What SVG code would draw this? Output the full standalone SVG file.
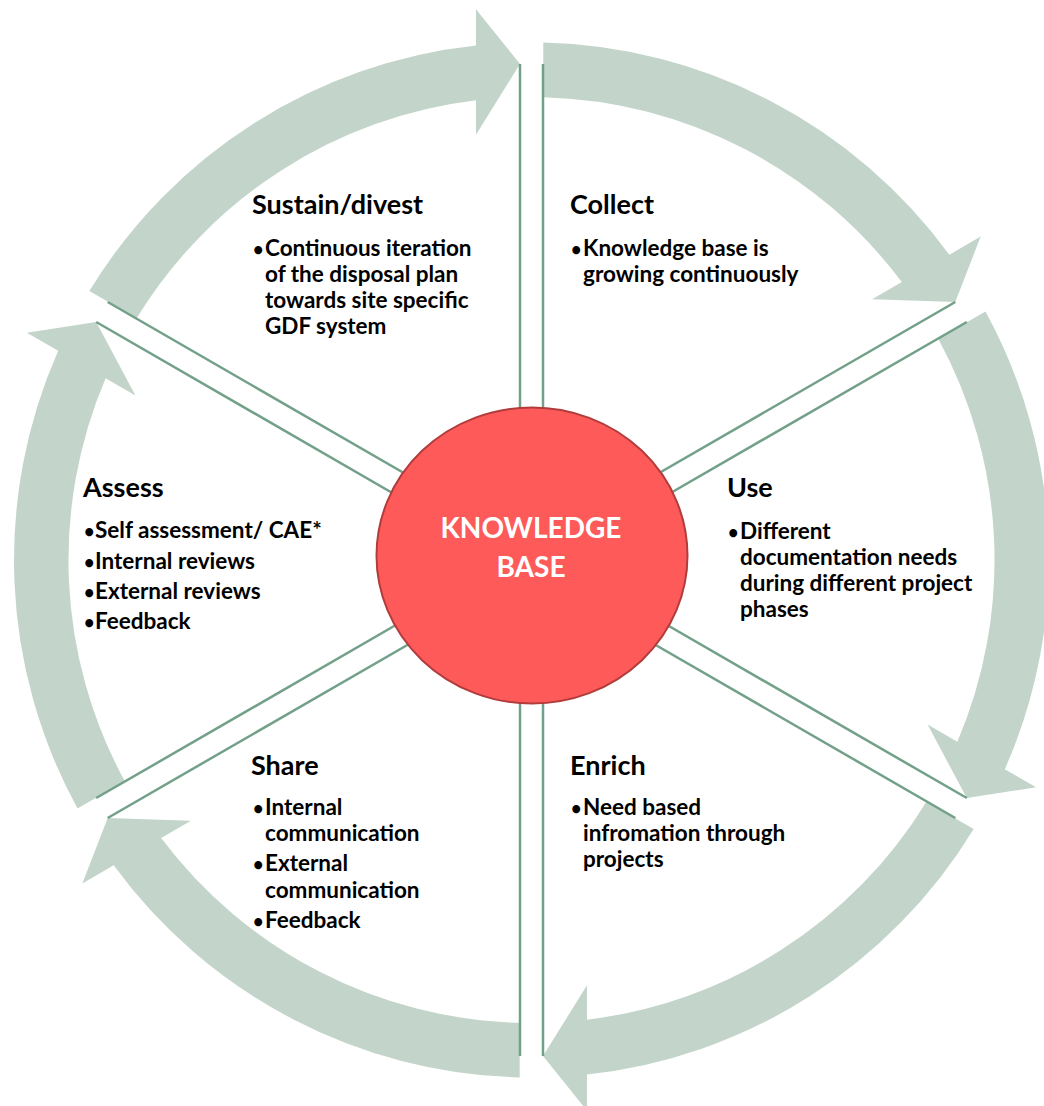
<svg xmlns="http://www.w3.org/2000/svg" xmlns:xlink="http://www.w3.org/1999/xlink" width="1044" height="1106" viewBox="0 0 1044 1106">
<style>
.arr{fill:#c3d5ca;}
.sp{stroke:#72a089;stroke-width:2.5;fill:none;}
.t{font-family:Lato,"Liberation Sans",sans-serif;font-weight:bold;fill:#000;}
.ttl{font-size:27px;}
.bd{font-size:22.5px;}
.bl{font-size:18px;}
.ctr{font-family:Lato,"Liberation Sans",sans-serif;font-weight:bold;font-size:28px;fill:#fff;text-anchor:middle;}
</style>
<defs>
<path id="arrow" d="M 543.3 42.6 A 517.5 517.5 0 0 1 949.31 254.69 L 980.66 236.59 L 955.29 302.04 L 872.06 299.29 L 901.85 282.09 A 463 463 0 0 0 543.3 97.15 Z"/>
<g id="spoke"><line x1="520" y1="64" x2="520" y2="430"/><line x1="543" y1="64" x2="543" y2="430"/></g>
</defs>
<rect width="1044" height="1106" fill="#fff"/>
<g id="connectors">
<g id="cycle-arrows" class="arr">
<use xlink:href="#arrow"/>
<use xlink:href="#arrow" transform="rotate(60 531.5 560)"/>
<use xlink:href="#arrow" transform="rotate(120 531.5 560)"/>
<use xlink:href="#arrow" transform="rotate(180 531.5 560)"/>
<use xlink:href="#arrow" transform="rotate(240 531.5 560)"/>
<use xlink:href="#arrow" transform="rotate(300 531.5 560)"/>
</g>
<g id="dividers" class="sp">
<use xlink:href="#spoke"/>
<use xlink:href="#spoke" transform="rotate(60 531.5 560)"/>
<use xlink:href="#spoke" transform="rotate(120 531.5 560)"/>
<use xlink:href="#spoke" transform="rotate(180 531.5 560)"/>
<use xlink:href="#spoke" transform="rotate(240 531.5 560)"/>
<use xlink:href="#spoke" transform="rotate(300 531.5 560)"/>
</g>
</g>
<g id="knowledge-base">
<ellipse cx="532" cy="555.5" rx="155.5" ry="148" fill="#ff5a5a" stroke="#b23c3c" stroke-width="2"/>
<text class="ctr" x="531" y="538">KNOWLEDGE</text>
<text class="ctr" x="531" y="577">BASE</text>
</g>
<g id="sustain-divest" class="t">
<text class="ttl" x="252" y="214">Sustain/divest</text>
<text class="bd" y="256"><tspan class="bl" x="253">•</tspan><tspan x="265">Continuous iteration</tspan></text>
<text class="bd" x="265" y="282">of the disposal plan</text>
<text class="bd" x="265" y="308">towards site specific</text>
<text class="bd" x="265" y="334">GDF system</text>
</g>
<g id="collect" class="t">
<text class="ttl" x="570" y="214">Collect</text>
<text class="bd" y="256"><tspan class="bl" x="571">•</tspan><tspan x="583">Knowledge base is</tspan></text>
<text class="bd" x="583" y="282">growing continuously</text>
</g>
<g id="use" class="t">
<text class="ttl" x="727" y="497">Use</text>
<text class="bd" y="539"><tspan class="bl" x="728">•</tspan><tspan x="740">Different</tspan></text>
<text class="bd" x="740" y="565">documentation needs</text>
<text class="bd" x="740" y="591">during different project</text>
<text class="bd" x="740" y="617">phases</text>
</g>
<g id="assess" class="t">
<text class="ttl" x="83" y="497">Assess</text>
<text class="bd" y="538"><tspan class="bl" x="84">•</tspan><tspan x="95">Self assessment/ CAE*</tspan></text>
<text class="bd" y="569"><tspan class="bl" x="84">•</tspan><tspan x="95">Internal reviews</tspan></text>
<text class="bd" y="599"><tspan class="bl" x="84">•</tspan><tspan x="95">External reviews</tspan></text>
<text class="bd" y="629"><tspan class="bl" x="84">•</tspan><tspan x="95">Feedback</tspan></text>
</g>
<g id="share" class="t">
<text class="ttl" x="251" y="775">Share</text>
<text class="bd" y="815"><tspan class="bl" x="253">•</tspan><tspan x="265">Internal</tspan></text>
<text class="bd" x="265" y="841">communication</text>
<text class="bd" y="871"><tspan class="bl" x="253">•</tspan><tspan x="265">External</tspan></text>
<text class="bd" x="265" y="898">communication</text>
<text class="bd" y="928"><tspan class="bl" x="253">•</tspan><tspan x="265">Feedback</tspan></text>
</g>
<g id="enrich" class="t">
<text class="ttl" x="570" y="775">Enrich</text>
<text class="bd" y="815"><tspan class="bl" x="571">•</tspan><tspan x="583">Need based</tspan></text>
<text class="bd" x="583" y="841">infromation through</text>
<text class="bd" x="583" y="867">projects</text>
</g>
</svg>
